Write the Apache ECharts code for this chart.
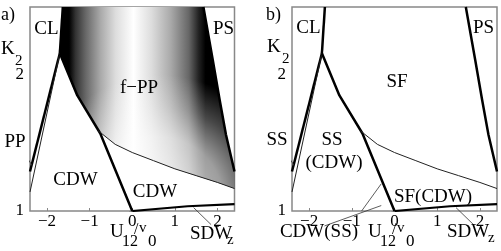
<!DOCTYPE html>
<html><head><meta charset="utf-8">
<script src="https://cdn.jsdelivr.net/npm/echarts@6/dist/echarts.min.js"></script>
<style>html,body{margin:0;padding:0;background:#fff}#c{width:501px;height:251px}</style>
</head><body><div id="c"></div>
<script>
// ---- data (U12/v0 , K2) ----
const xTicks = [-2, -1, 0, 1, 2];
const yTicks = [1, 2];
const clLine = [[-1.63, 2.5], [-1.7, 2.16]];
const leftThick = [[-1.7, 2.16], [-2.4, 1.29]];
const leftThin = [[-1.7, 2.16], [-2.4, 1.14]];
const midThick = [[-1.7, 2.16], [-1.29, 1.85], [-0.75, 1.57], [0, 1.0]];
const psLine = [[1.67, 2.5], [1.89, 2.11], [2.05, 1.82], [2.2, 1.56], [2.4, 1.29]];
const thinCurve = [[-0.8, 1.59], [-0.4, 1.49], [0, 1.43], [0.5, 1.37], [1.0, 1.31], [1.5, 1.26], [2.0, 1.21], [2.4, 1.165]];
const sdwLine = [[0, 1.0], [1.3, 1.035], [2.4, 1.05]];
const leaderLeft = [[-2.55, 1.43], [-2.34, 1.33]];
const leaderSDW = [[1.44, 1.025], [1.85, 0.9]];
const leaderCdwSs1 = [[-1.64, 0.89], [-0.31, 1.04]];
const leaderCdwSs2 = [[-0.77, 1.0], [-0.31, 1.2]];
// f-PP region outline built from the boundaries
const fppPoly = [clLine[0]].concat(psLine, thinCurve.slice().reverse(), [midThick[1], midThick[0]]);

const SERIF = 'Liberation Serif';
const chart = echarts.init(document.getElementById('c'), null, {renderer: 'canvas'});

const gradStops = [[-1.75,'#000'],[-1.48,'#000'],[-1.33,'#333'],[-1.1,'#666'],[-0.74,'#aaa'],[-0.39,'#ddd'],[0.03,'#fff'],[0.45,'#ddd'],[0.9,'#aaa'],[1.33,'#666'],[1.56,'#222'],[1.72,'#000'],[2.4,'#000']];

function renderFPP(params, api) {
  const pts = fppPoly.map(p => api.coord(p));
  const xl = api.coord([gradStops[0][0], 2])[0];
  const xr = api.coord([gradStops[gradStops.length - 1][0], 2])[0];
  const stops = gradStops.map(s => ({offset: (api.coord([s[0], 2])[0] - xl) / (xr - xl), color: s[1]}));
  const c = api.coord([0.65, 1.08]);
  const r = api.coord([0.65 + 2.95, 1.08])[0] - c[0];
  return {type: 'group', children: [
    {type: 'polygon', shape: {points: pts}, style: {fill: new echarts.graphic.LinearGradient(xl, 0, xr, 0, stops, true)}},
    {type: 'polygon', shape: {points: pts}, style: {fill: new echarts.graphic.RadialGradient(c[0], c[1], r, [
      {offset: 0, color: 'rgba(255,255,255,0.85)'},
      {offset: 0.5, color: 'rgba(255,255,255,0.62)'},
      {offset: 0.75, color: 'rgba(255,255,255,0.28)'},
      {offset: 1, color: 'rgba(255,255,255,0)'}], true)}}
  ]};
}

function line(data, idx, width, color, clip) {
  return {type: 'line', data: data, xAxisIndex: idx, yAxisIndex: idx, symbol: 'none', showSymbol: false,
    silent: true, animation: false, clip: clip !== false, z: 5,
    lineStyle: {color: color || '#000', width: width}};
}

function xAxis(idx) {
  return {type: 'value', gridIndex: idx, min: -2.4, max: 2.4,
    axisLine: {show: false}, splitLine: {show: false},
    axisTick: {show: true, customValues: xTicks, length: 3, inside: true, lineStyle: {color: '#888'}},
    axisLabel: {customValues: xTicks, margin: 2, color: '#000', fontFamily: SERIF, fontSize: 17,
      formatter: v => String(v).replace('-', '\u2212')}};
}
function yAxis(idx) {
  return {type: 'value', gridIndex: idx, min: 1, max: 2.5,
    axisLine: {show: false}, splitLine: {show: false},
    axisTick: {show: true, customValues: yTicks, length: 3, lineStyle: {color: '#888'}},
    axisLabel: {customValues: yTicks, margin: 6, color: '#000', fontFamily: SERIF, fontSize: 17}};
}

function T(text, x, y, size, align) {
  return {type: 'text', x: x, y: y, z: 100, silent: true,
    style: {text: text, fontFamily: SERIF, fontSize: size || 19, fill: '#000',
      align: align || 'center', verticalAlign: 'middle'}};
}

const series = [];
// panel a
series.push({type: 'custom', xAxisIndex: 0, yAxisIndex: 0, data: [[0, 2]], renderItem: renderFPP, silent: true, animation: false, z: 1, clip: true});
[0, 1].forEach(i => {
  series.push(line(clLine, i, 2.5));
  series.push(line(leftThick, i, 2.5));
  series.push(line(leftThin, i, 1, '#222'));
  series.push(line(midThick, i, 2.5));
  series.push(line(psLine, i, 2.5));
  series.push(line(thinCurve, i, 1, '#222'));
  series.push(line(sdwLine, i, 2.2));
  series.push(line(leaderLeft, i, 0.8, '#333', false));
  series.push(line(leaderSDW, i, 0.8, '#333', false));
});
series.push(line(leaderCdwSs1, 1, 0.8, '#333', false));
series.push(line(leaderCdwSs2, 1, 0.8, '#333', false));

const graphic = [
  // panel a
  T('a)', 1, 15, 18, 'left'),
  T('CL', 46.5, 29.5), T('PS', 223.5, 29.5),
  T('K', 1, 49, 19, 'left'), T('2', 15, 61, 15, 'left'),
  T('f\u2212PP', 139, 88.5), T('PP', 15, 142.5),
  T('CDW', 75.5, 180), T('CDW', 155, 192),
  T('SDW', 190, 234.5, 19, 'left'), T('z', 227, 240, 15, 'left'),
  T('U', 110, 232, 19, 'left'), T('12', 122, 242, 16, 'left'), T('/', 134, 230, 16, 'left'),
  T('v', 139, 228, 15, 'left'), T('0', 148, 242, 17, 'left'),
  // panel b
  T('b)', 266, 15, 18, 'left'),
  T('CL', 308.5, 28.5), T('PS', 483.5, 28.5),
  T('K', 267, 47, 19, 'left'), T('2', 282, 59, 15, 'left'),
  T('SF', 397, 82), T('SS', 277, 140),
  T('SS', 332, 140), T('(CDW)', 334, 163),
  T('SF(CDW)', 433, 197), T('CDW(SS)', 319, 232),
  T('SDW', 447, 232, 19, 'left'), T('z', 488, 238, 15, 'left'),
  T('U', 368, 232, 19, 'left'), T('12', 380, 242, 16, 'left'), T('/', 392, 230, 16, 'left'),
  T('v', 397, 228, 15, 'left'), T('0', 406, 242, 17, 'left')
];

chart.setOption({
  animation: false,
  backgroundColor: '#fff',
  grid: [
    {left: 30, top: 7, width: 204.5, height: 204, show: true, borderColor: '#888', borderWidth: 1.5, backgroundColor: 'transparent'},
    {left: 292, top: 7, width: 205, height: 204, show: true, borderColor: '#888', borderWidth: 1.5, backgroundColor: 'transparent'}
  ],
  xAxis: [xAxis(0), xAxis(1)],
  yAxis: [yAxis(0), yAxis(1)],
  series: series,
  graphic: graphic
});
</script></body></html>
